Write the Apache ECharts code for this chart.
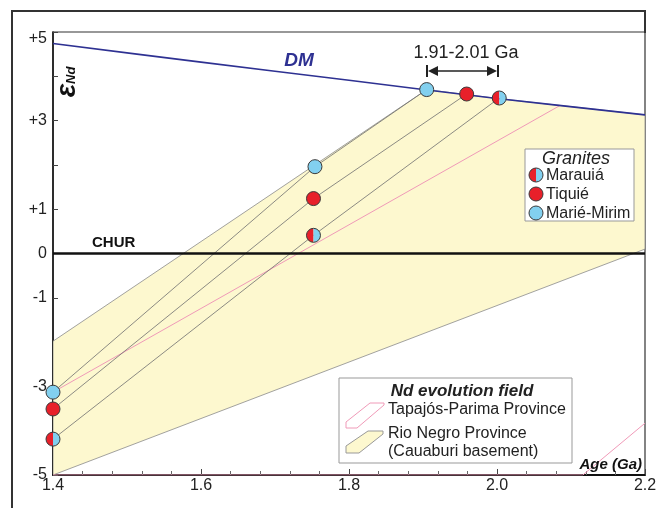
<!DOCTYPE html>
<html><head><meta charset="utf-8">
<script src="https://cdn.jsdelivr.net/npm/echarts@6/dist/echarts.min.js"></script>
<style>html,body{margin:0;padding:0;background:#fff}#c{width:667px;height:508px}</style>
</head><body><div id="c"></div>
<script>
// ---- data ----
const dmAges = [1.4, 1.6, 1.8, 2.0, 2.2];
const dmEps = [4.74, 4.32, 3.91, 3.50, 3.13];
const churAges = [1.4, 2.2];
const churEps = [0, 0];

const graniteNames = ['Marauiá', 'Tiquié', 'Marié-Mirim'];
const eps14 = [-4.19, -3.51, -3.13];
const crystAge = [1.752, 1.752, 1.754];
const crystEps = [0.41, 1.24, 1.96];
const tdmAge = [2.003, 1.959, 1.905];
const tdmEps = [3.51, 3.60, 3.70];

const rioNegroField = [[1.4, -5], [1.4, -1.98], [1.905, 3.70], [2.0, 3.50], [2.2, 3.13], [2.2, 0.10]];
const tapajosUpper = [[1.4, -3.13], [2.085, 3.34]];
const tapajosLower = [[1.4, -5], [2.116, -5], [2.2, -3.83]];

const yLabelValues = [5, 3, 1, 0, -1, -3, -5];
const yLabelTexts = ['+5', '+3', '+1', '0', '-1', '-3', '-5'];
const xLabelValues = [1.4, 1.6, 1.8, 2.0, 2.2];
const xLabelTexts = ['1.4', '1.6', '1.8', '2.0', '2.2'];

// ---- styles ----
const FONT = "'Liberation Sans', Arial, sans-serif";
const RED = '#e8202a', BLUE = '#82d0ef', PINK = '#f09ab8', NAVY = '#2e3192', YEL = '#fdf8cf';

const chart = echarts.init(document.getElementById('c'), null, {renderer: 'canvas'});

function lookup(vals, texts, v) {
  const i = vals.findIndex(t => Math.abs(t - v) < 1e-6);
  return i >= 0 ? texts[i] : '';
}

const series = [];
// Rio Negro field polygon
series.push({
  type: 'custom', z: 1, silent: true, clip: true,
  data: [rioNegroField[0]],
  renderItem: (params, api) => ({
    type: 'polygon',
    shape: {points: rioNegroField.map(p => api.coord(p))},
    style: {fill: YEL, stroke: '#8a8a8a', lineWidth: 0.8}
  })
});
// Tapajós-Parima field
[tapajosUpper, tapajosLower].forEach(d => series.push({
  type: 'line', z: 2, silent: true, symbol: 'none', data: d,
  lineStyle: {color: PINK, width: 1}
}));
// granite evolution lines
graniteNames.forEach((n, i) => series.push({
  type: 'line', z: 2, silent: true, symbol: 'none',
  data: [[1.4, eps14[i]], [crystAge[i], crystEps[i]], [tdmAge[i], tdmEps[i]]],
  lineStyle: {color: '#6f6f6f', width: 0.8}
}));
// DM
series.push({
  type: 'line', z: 3, silent: true, symbol: 'none', smooth: 0.3,
  data: dmAges.map((a, i) => [a, dmEps[i]]),
  lineStyle: {color: NAVY, width: 1.6}
});
// CHUR
series.push({
  type: 'line', z: 3, silent: true, symbol: 'none',
  data: churAges.map((a, i) => [a, churEps[i]]),
  lineStyle: {color: '#111', width: 2.5}
});
// points
const pts = [];
graniteNames.forEach((n, i) => {
  pts.push([1.4, eps14[i], i]);
  pts.push([crystAge[i], crystEps[i], i]);
  pts.push([tdmAge[i], tdmEps[i], i]);
});
function symbolParts(cx, cy, t, r) {
  if (t === 0) {
    return [
      {type: 'sector', shape: {cx, cy, r, r0: 0, startAngle: Math.PI / 2, endAngle: Math.PI * 1.5, clockwise: true}, style: {fill: RED}},
      {type: 'sector', shape: {cx, cy, r, r0: 0, startAngle: -Math.PI / 2, endAngle: Math.PI / 2, clockwise: true}, style: {fill: BLUE}},
      {type: 'circle', shape: {cx, cy, r}, style: {fill: 'none', stroke: '#3a3a3a', lineWidth: 1}}
    ];
  }
  return [{type: 'circle', shape: {cx, cy, r}, style: {fill: t === 1 ? RED : BLUE, stroke: '#3a3a3a', lineWidth: 1}}];
}
series.push({
  type: 'custom', z: 6, silent: true, clip: false,
  data: pts, encode: {x: 0, y: 1},
  renderItem: (params, api) => {
    const p = api.coord([api.value(0), api.value(1)]);
    return {type: 'group', children: symbolParts(p[0], p[1], api.value(2), 7)};
  }
});

// ---- annotation graphics ----
const txt = (x, y, text, o) => Object.assign({type: 'text', x, y, z: 20, silent: true,
  style: Object.assign({text, fill: '#222', font: '16px ' + FONT, textAlign: 'left', textVerticalAlign: 'middle'}, o || {})});
const legendSym = (cx, cy, t) => symbolParts(cx, cy, t, 7).map(e => Object.assign(e, {z: 22, silent: true}));

const graphics = [
  // outer frame
  {type: 'polyline', z: 20, silent: true, shape: {points: [[12, 520], [12, 11], [645, 11], [645, 33]]}, style: {stroke: '#333', lineWidth: 2, fill: null}},
  // y title
  {type: 'text', x: 67, y: 82, rotation: Math.PI / 2, z: 20, silent: true,
    style: {text: '{e|ε}{s|Nd}', textAlign: 'center', textVerticalAlign: 'middle',
      rich: {e: {fontSize: 28, fontStyle: 'italic', fontFamily: FONT, fill: '#111', fontWeight: 'bold'},
             s: {fontSize: 13, fontStyle: 'italic', fontWeight: 'bold', fontFamily: FONT, fill: '#111', padding: [8, 0, 0, 0]}}}},
  // DM label
  txt(299, 61, 'DM', {font: 'italic bold 19px ' + FONT, fill: NAVY, textAlign: 'center'}),
  // CHUR label
  txt(92, 243, 'CHUR', {font: 'bold 15px ' + FONT, fill: '#111'}),
  // range annotation
  txt(466, 53, '1.91-2.01 Ga', {font: '18px ' + FONT, textAlign: 'center'}),
  {type: 'line', z: 20, silent: true, shape: {x1: 430, y1: 71, x2: 495, y2: 71}, style: {stroke: '#222', lineWidth: 1.5}},
  {type: 'line', z: 20, silent: true, shape: {x1: 427, y1: 65, x2: 427, y2: 77}, style: {stroke: '#222', lineWidth: 2}},
  {type: 'line', z: 20, silent: true, shape: {x1: 498, y1: 65, x2: 498, y2: 77}, style: {stroke: '#222', lineWidth: 2}},
  {type: 'polygon', z: 20, silent: true, shape: {points: [[428, 71], [438, 66], [438, 76]]}, style: {fill: '#222'}},
  {type: 'polygon', z: 20, silent: true, shape: {points: [[497, 71], [487, 66], [487, 76]]}, style: {fill: '#222'}},
  // Granites legend
  {type: 'rect', z: 19, silent: true, shape: {x: 525, y: 149, width: 109, height: 72}, style: {fill: '#fff', stroke: '#999', lineWidth: 1}},
  txt(576, 159, 'Granites', {font: 'italic 18px ' + FONT, textAlign: 'center'}),
  ...legendSym(536, 175, 0),
  ...legendSym(536, 194, 1),
  ...legendSym(536, 213, 2),
  txt(546, 176, graniteNames[0]),
  txt(546, 195, graniteNames[1]),
  txt(546, 214, graniteNames[2]),
  // Nd evolution field legend
  {type: 'rect', z: 19, silent: true, shape: {x: 339, y: 378, width: 233, height: 85}, style: {fill: '#fff', stroke: '#999', lineWidth: 1}},
  txt(462, 391, 'Nd evolution field', {font: 'italic bold 17px ' + FONT, textAlign: 'center'}),
  {type: 'polygon', z: 21, silent: true, shape: {points: [[346, 428], [346, 422], [370, 403], [384, 403], [384, 405], [357, 428]]}, style: {fill: '#fff', stroke: PINK, lineWidth: 1}},
  txt(388, 410, 'Tapajós-Parima Province'),
  {type: 'polygon', z: 21, silent: true, shape: {points: [[346, 453], [346, 446], [368, 431], [383, 431], [383, 434], [359, 453]]}, style: {fill: YEL, stroke: '#999', lineWidth: 1}},
  txt(388, 434, 'Rio Negro Province'),
  txt(388, 452, '(Cauaburi basement)'),
  // axis name
  txt(642, 465, 'Age (Ga)', {font: 'italic bold 15px ' + FONT, textAlign: 'right', fill: '#111'})
];

chart.setOption({
  animation: false,
  backgroundColor: '#fff',
  grid: {left: 53, right: 22, top: 32, bottom: 33, show: true, borderColor: '#333', borderWidth: 1.2, backgroundColor: 'transparent'},
  xAxis: {
    type: 'value', min: 1.4, max: 2.2, interval: 0.2,
    axisLine: {show: true, onZero: false, lineStyle: {color: '#111', width: 2}},
    axisTick: {show: true, inside: true, length: 6, lineStyle: {color: '#444', width: 1}},
    minorTick: {show: true, splitNumber: 5, length: 4, lineStyle: {color: '#666', width: 1}},
    splitLine: {show: false}, minorSplitLine: {show: false},
    axisLabel: {show: true, margin: 3, fontSize: 16, fontFamily: FONT, color: '#222', showMinLabel: true, showMaxLabel: true,
      formatter: v => lookup(xLabelValues, xLabelTexts, v)}
  },
  yAxis: {
    type: 'value', min: -5, max: 5, interval: 1,
    axisLine: {show: true, onZero: false, lineStyle: {color: '#111', width: 1.5}},
    axisTick: {show: true, inside: true, length: 5, lineStyle: {color: '#444', width: 1}},
    splitLine: {show: false},
    axisLabel: {show: true, margin: 6, fontSize: 16, fontFamily: FONT, color: '#222', showMinLabel: true, showMaxLabel: true,
      formatter: v => {
        const s = lookup(yLabelValues, yLabelTexts, v);
        return v === 5 ? '{top|' + s + '}' : s;
      },
      rich: {top: {fontSize: 16, fontFamily: FONT, color: '#222', padding: [14, 0, 0, 0]}}}
  },
  series,
  graphic: graphics
});
</script></body></html>
